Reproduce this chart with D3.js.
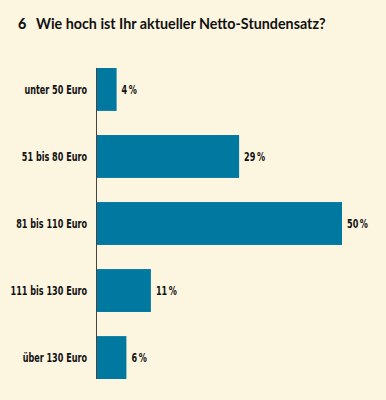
<!DOCTYPE html>
<html>
<head>
<meta charset="utf-8">
<script src="https://cdn.jsdelivr.net/npm/d3@7"></script>
<style>
  body { margin: 0; background: #fcf5e0; }
  svg { display: block; }
</style>
</head>
<body>
<div class="chart"></div>
<script>
// data
var categories = ["unter 50 Euro", "51 bis 80 Euro", "81 bis 110 Euro", "111 bis 130 Euro", "über 130 Euro"];
var values = [4, 29, 50, 11, 6];
var questionNumber = "6";
var questionText = "Wie hoch ist Ihr aktueller Netto-Stundensatz?";

var width = 386, height = 400;
var condensed = "'DejaVu Sans Condensed', 'DejaVu Sans', sans-serif";
var squeeze = 0.72; // horizontal squeeze to mimic a narrow typeface

var svg = d3.select(".chart")
    .append("svg")
    .attr("width", width)
    .attr("height", height);

svg.append("rect")
    .attr("width", width)
    .attr("height", height)
    .attr("fill", "#fcf5e0");

// title
var title = svg.append("text")
    .attr("x", 18)
    .attr("y", 29)
    .style("font-family", "Lato, sans-serif")
    .style("font-size", "14.3px")
    .attr("fill", "#111");
title.append("tspan").style("font-weight", 900).text(questionNumber);
title.append("tspan").attr("x", 36).style("font-weight", 700).text(questionText);

// scales
var x = d3.scaleLinear()
    .domain([0, 50])
    .range([97, 342]);

var y = d3.scaleBand()
    .domain(categories)
    .range([68, 379])
    .paddingInner(0.36)
    .paddingOuter(0);

// bars
svg.selectAll("rect.bar")
    .data(values)
    .enter()
    .append("rect")
    .attr("class", "bar")
    .attr("x", x(0))
    .attr("y", function(d, i) { return y(categories[i]); })
    .attr("width", function(d) { return x(d) - x(0); })
    .attr("height", y.bandwidth())
    .attr("fill", "#00789f");

// axis line
svg.append("line")
    .attr("x1", x(0) - 0.5)
    .attr("x2", x(0) - 0.5)
    .attr("y1", y.range()[0])
    .attr("y2", y.range()[1])
    .attr("stroke", "#444")
    .attr("stroke-width", 1);

// category labels
svg.selectAll("text.cat")
    .data(categories)
    .enter()
    .append("text")
    .attr("class", "cat")
    .attr("transform", function(d) {
        return "translate(87," + (y(d) + y.bandwidth() / 2) + ") scale(" + squeeze + ",1)";
    })
    .attr("dy", "0.35em")
    .attr("text-anchor", "end")
    .style("font-family", condensed)
    .style("font-stretch", "condensed")
    .style("font-weight", "bold")
    .style("font-size", "12.5px")
    .attr("fill", "#111")
    .text(function(d) { return d; });

// value labels
svg.selectAll("text.val")
    .data(values)
    .enter()
    .append("text")
    .attr("class", "val")
    .attr("transform", function(d, i) {
        return "translate(" + (x(d) + 5) + "," + (y(categories[i]) + y.bandwidth() / 2) + ") scale(" + squeeze + ",1)";
    })
    .attr("dy", "0.35em")
    .style("font-family", condensed)
    .style("font-stretch", "condensed")
    .style("font-weight", "bold")
    .style("font-size", "12.5px")
    .attr("fill", "#111")
    .text(function(d) { return d + "\u2009%"; });
</script>
</body>
</html>
